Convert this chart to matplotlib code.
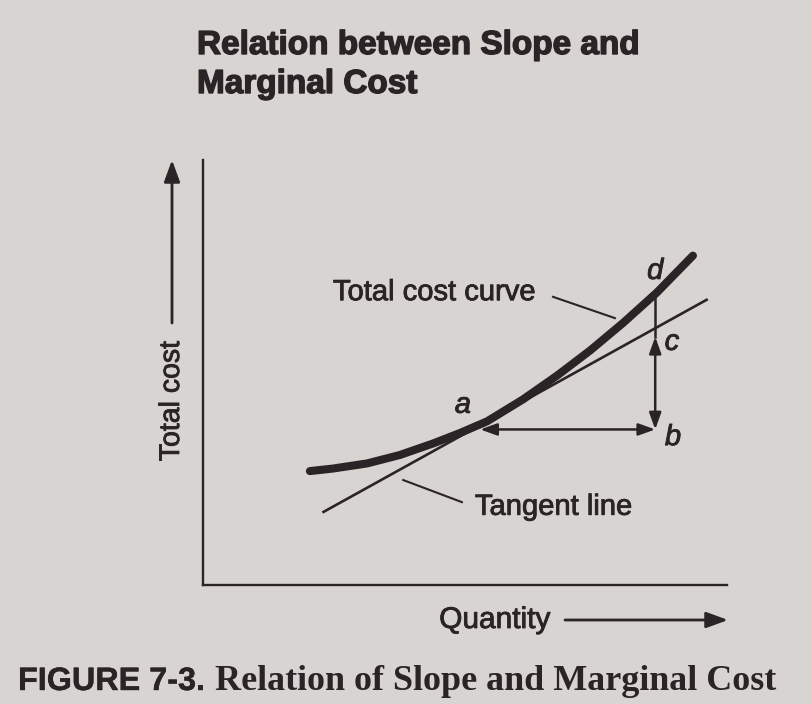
import matplotlib
matplotlib.use("Agg")
import matplotlib.pyplot as plt
import matplotlib.patheffects as pe

# ---- data (axis units: quantity 0-10, total cost 0-10) ----
curve_x = [2.04, 2.48, 3.13, 3.76, 4.39, 4.91, 5.42, 6.11, 6.76, 7.39, 8.02, 8.66, 9.35]
curve_y = [2.68, 2.74, 2.86, 3.06, 3.33, 3.58, 3.85, 4.37, 4.93, 5.52, 6.17, 6.88, 7.75]
tangent_x = [2.30, 9.61]
tangent_y = [1.72, 6.71]
point_a = (5.29, 3.66)
point_b = (8.63, 3.66)
point_c = (8.63, 5.84)
point_d = (8.63, 6.80)
point_labels = ["a", "b", "c", "d"]
point_label_pos = [(4.96, 4.24), (8.97, 3.48), (8.95, 5.72), (8.63, 7.39)]
curve_label = "Total cost curve"
tangent_label = "Tangent line"
title_lines = ["Relation between Slope and", "Marginal Cost"]
xlabel = "Quantity"
ylabel = "Total cost"
caption_bold = "FIGURE 7-3."
caption_rest = "Relation of Slope and Marginal Cost"

BG = "#d8d4d2"
INK = "#2a2426"
W, H = 812, 704

fig = plt.figure(figsize=(W / 100, H / 100), dpi=100, facecolor=BG)


def fx(px):
    return px / W


def fy(py):
    return 1 - py / H


heavy = [pe.withStroke(linewidth=0.6, foreground=INK)]
heavier = [pe.withStroke(linewidth=1.0, foreground=INK)]

ax = fig.add_axes([fx(203), fy(585), (727 - 203) / W, (585 - 160) / H])
ax.set_facecolor("none")
ax.set_xlim(0, 10)
ax.set_ylim(0, 10)
for s in ["top", "right"]:
    ax.spines[s].set_visible(False)
for s in ["left", "bottom"]:
    ax.spines[s].set_linewidth(1.7)
    ax.spines[s].set_color(INK)
ax.set_xticks([])
ax.set_yticks([])

# total cost curve and tangent
ax.plot(curve_x, curve_y, color=INK, lw=5.8, solid_capstyle="round",
        solid_joinstyle="round")
ax.plot(tangent_x, tangent_y, color=INK, lw=1.9)

# horizontal double arrow a <-> b
ax.annotate("", xy=point_a, xytext=point_b,
            arrowprops=dict(arrowstyle="<|-|>,head_length=0.5,head_width=0.18",
                            color=INK, lw=1.8, mutation_scale=20,
                            shrinkA=0, shrinkB=0))
# vertical double arrow b <-> c, line on to d
ax.plot([point_c[0], point_d[0]], [point_c[1], point_d[1]], color=INK, lw=1.8)
ax.annotate("", xy=point_c, xytext=point_b,
            arrowprops=dict(arrowstyle="<|-|>,head_length=0.5,head_width=0.18",
                            color=INK, lw=1.8, mutation_scale=20,
                            shrinkA=0, shrinkB=0))

lab_font = dict(family="Liberation Sans", color=INK)
for lab, pos in zip(point_labels, point_label_pos):
    ax.text(pos[0], pos[1], lab, fontsize=21, style="italic", ha="center",
            va="center", path_effects=heavy, **lab_font)

# curve / tangent labels with leaders
ax.text(2.48, 6.89, curve_label, fontsize=21, ha="left", va="center",
        path_effects=heavy, **lab_font)
ax.plot([6.68, 7.86], [6.78, 6.28], color=INK, lw=1.5)
ax.text(5.19, 1.84, tangent_label, fontsize=21, ha="left", va="center",
        path_effects=heavy, **lab_font)
ax.plot([3.82, 4.94], [2.47, 1.95], color=INK, lw=1.5)

# axis labels with arrows
fig.text(fx(172), fy(401), ylabel, rotation=90, fontsize=20.5, ha="center",
         va="center", path_effects=heavy, **lab_font)
fig.text(fx(495), fy(620), xlabel, fontsize=21.5, ha="center", va="center",
         path_effects=heavy, **lab_font)
arrow_kw = dict(arrowstyle="-|>,head_length=0.6,head_width=0.22", color=INK,
                lw=2.0, mutation_scale=22, shrinkA=0, shrinkB=0)
fig.add_artist(matplotlib.patches.FancyArrowPatch(
    (fx(172), fy(323)), (fx(172), fy(160)), transform=fig.transFigure, **arrow_kw))
fig.add_artist(matplotlib.patches.FancyArrowPatch(
    (fx(565), fy(620)), (fx(728), fy(620)), transform=fig.transFigure, **arrow_kw))

# title
fig.text(fx(197), fy(54), title_lines[0], fontsize=24, fontweight="bold",
         ha="left", va="baseline", path_effects=heavier, **lab_font)
fig.text(fx(197), fy(93), title_lines[1], fontsize=24, fontweight="bold",
         ha="left", va="baseline", path_effects=heavier, **lab_font)

# caption
fig.text(fx(18), fy(690), caption_bold, fontsize=23.3, fontweight="bold",
         ha="left", va="baseline", path_effects=[pe.withStroke(linewidth=0.3, foreground=INK)],
         **lab_font)
fig.text(fx(215), fy(690), caption_rest, fontsize=25.9, fontweight="bold",
         ha="left", va="baseline", family="Liberation Serif", color=INK)

fig.savefig("out.png", dpi=100, facecolor=BG)
